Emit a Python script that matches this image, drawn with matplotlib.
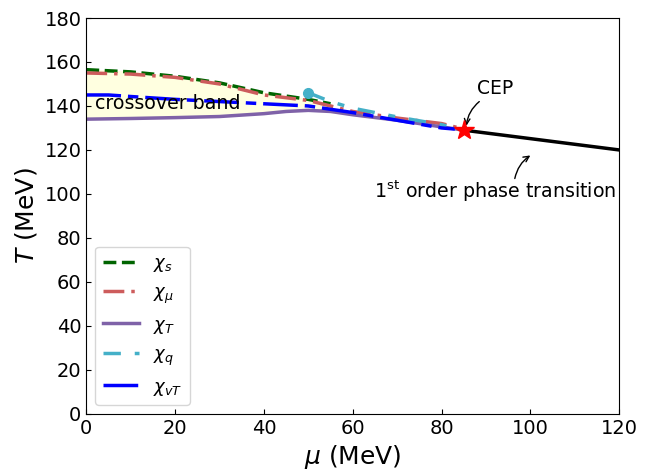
import matplotlib
matplotlib.use('Agg')
import matplotlib.pyplot as plt

mu_s = [0, 10, 20, 30, 40, 50, 55]
T_s = [156.5, 155.5, 153.5, 150.5, 146, 143, 141]

mu_mu = [0, 10, 20, 30, 40, 50, 60, 70, 80, 84]
T_mu = [155, 154.5, 153, 150, 145, 142.5, 137.5, 134.5, 132, 130]

mu_T = [0, 10, 20, 30, 40, 45, 50, 55, 60, 70, 80, 85]
T_T = [134, 134.3, 134.7, 135.2, 136.5, 137.5, 138, 137.5, 136, 133.5, 130.5, 129]

mu_q = [50, 55, 60, 70, 80, 83]
T_q = [146, 142, 139, 135, 131.5, 130]

mu_vT = [0, 5, 10, 20, 30, 40, 50, 60, 70, 80, 83]
T_vT = [145, 145, 144.3, 143, 142, 141, 140, 137, 133.5, 130, 129.5]

mu_1st = [85, 120]
T_1st = [129, 120]
cep = (85, 129)

fig, ax = plt.subplots(figsize=(6.49, 4.74), dpi=100)

ax.fill_between(mu_T[:8], [156.5, 155.5, 153.5, 150.5, 146, 144.5, 143, 141], T_T[:8],
                color='lightyellow', zorder=0)

ax.plot(mu_s, T_s, '--', color='darkgreen', lw=2.5, label=r'$\chi_s$')
ax.plot(mu_mu, T_mu, '-.', color='indianred', lw=2.5, dashes=[6, 2, 1, 2], label=r'$\chi_\mu$')
ax.plot(mu_T, T_T, '-', color='#7f62a8', lw=2.5, label=r'$\chi_T$')
ax.plot(mu_q, T_q, '-.', color='#44b0c8', lw=2.5, dashes=[5, 4, 2, 4], label=r'$\chi_q$')
ax.plot(mu_q[0], T_q[0], 'o', color='#44b0c8', ms=7)
ax.plot(mu_vT, T_vT, '-.', color='blue', lw=2.5, dashes=[10, 2, 3, 2], label=r'$\chi_{vT}$')
ax.plot(mu_1st, T_1st, '-', color='black', lw=2.5)
ax.plot(cep[0], cep[1], '*', color='red', ms=15, zorder=5)

ax.text(2, 141, 'crossover band', fontsize=13.7, va='center')
ax.text(92, 148, 'CEP', fontsize=13.5, ha='center', va='center')
ax.annotate('', xy=(85.6, 131), xytext=(88.5, 142),
            arrowprops=dict(arrowstyle='->', color='black', connectionstyle='arc3,rad=0.2',
                            shrinkA=0, shrinkB=0))
ax.text(92, 101, r'1$^{\rm st}$ order phase transition', fontsize=13.7, ha='center', va='center')
ax.annotate('', xy=(100, 117.5), xytext=(96.5, 107),
            arrowprops=dict(arrowstyle='->', color='black', connectionstyle='arc3,rad=-0.2',
                            shrinkA=0, shrinkB=0))

ax.set_xlim(0, 120)
ax.set_ylim(0, 180)
ax.set_xlabel(r'$\mu$ (MeV)', fontsize=18)
ax.set_ylabel(r'$T$ (MeV)', fontsize=18)
ax.tick_params(direction='in', labelsize=14)
ax.legend(loc='lower left', fontsize=13, handlelength=2.0, borderaxespad=0.5,
          labelspacing=0.55)

plt.subplots_adjust(left=0.133, right=0.954, top=0.962, bottom=0.127)
plt.savefig('out.png', dpi=100)
